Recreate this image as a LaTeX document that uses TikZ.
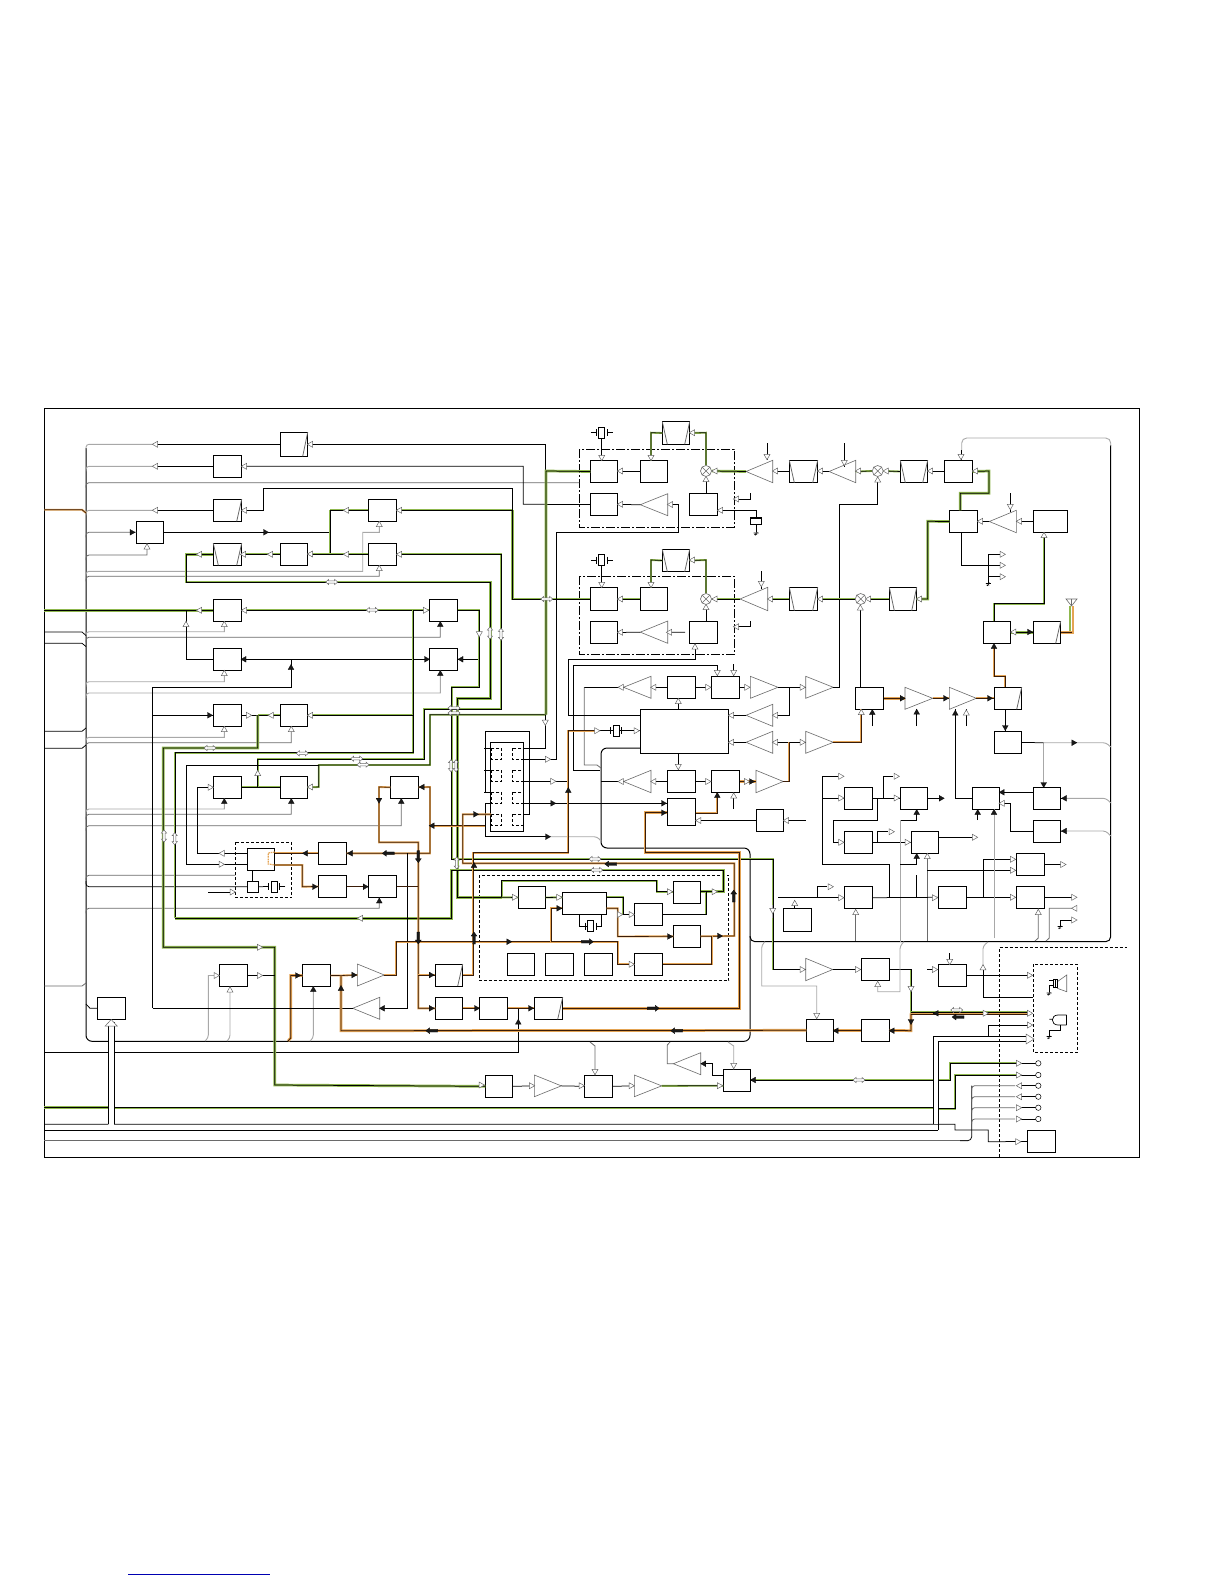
\documentclass[tikz,border=0pt]{standalone}
\definecolor{gcol}{HTML}{8FB84E}
\definecolor{ocol}{HTML}{E4A454}
\definecolor{lg}{HTML}{A8A8A8}
\definecolor{dg}{HTML}{6A6A6A}
\definecolor{bru}{HTML}{3A1C08}
\tikzset{
 w/.style={draw=black,line width=.75pt},
 wt/.style={draw=black,line width=1pt},
 gw/.style={draw=black,line width=.65pt,preaction={draw=gcol,line width=1.9pt}},
 gt/.style={draw=black,line width=.75pt,preaction={draw=gcol,line width=2.7pt}},
 ow/.style={draw=bru,line width=.7pt,preaction={draw=ocol,line width=1.9pt}},
 ot/.style={draw=bru,line width=.8pt,preaction={draw=ocol,line width=2.7pt}},
 gy/.style={draw=lg,line width=.9pt},
 gd/.style={draw=dg,line width=.8pt},
 rc/.style={rounded corners=3pt},
 blkst/.style={rectangle,draw=black,fill=white,line width=.8pt,inner sep=0pt,outer sep=0pt},
 opn/.style={draw=dg,fill=white,line width=.5pt},
 fil/.style={draw=black,fill=black!90,line width=.2pt},
 dsh/.style={draw=black,line width=.7pt,dash pattern=on 3pt off 2pt},
 dd/.style={draw=black,line width=.7pt,dash pattern=on 9pt off 2pt on 2pt off 2pt},
 ampst/.style={draw=dg,line width=.6pt},
}
\newcommand\Blk[5]{\pgfmathsetmacro\Wd{#4-#2}\pgfmathsetmacro\Ht{#5-#3}\pgfmathsetmacro\Cx{(#2+#4)/2}\pgfmathsetmacro\Cy{(#3+#5)/2}\node[blkst,minimum width=\Wd pt,minimum height=\Ht pt] (#1) at (\Cx,\Cy) {};}
\newcommand\Sblk[5]{\Blk{#1}{#2}{#3}{#4}{#5}\draw[gd] ([xshift=-5pt]#1.south east)--(#1.north east);}
\newcommand\Dblk[5]{\Blk{#1}{#2}{#3}{#4}{#5}\draw[gd] ([xshift=-5pt]#1.south east)--(#1.north east) ([xshift=5pt]#1.south west)--(#1.north west);}
\newcommand\Amp[5]{\pgfmathsetmacro\Cy{(#4+#5)/2}\draw[ampst] (#2,\Cy)--(#3,#4)--(#3,#5)--cycle;\coordinate (#1-t) at (#2,\Cy);\coordinate (#1-b) at (#3,\Cy);}
\newcommand\Mix[3]{\node[circle,draw=dg,fill=white,line width=.6pt,minimum size=11pt,inner sep=0pt] (#1) at (#2,#3) {};\draw[dg,line width=.5pt] (#1.north east)--(#1.south west) (#1.north west)--(#1.south east);}
\newcommand\Oa[3]{\draw[opn,shift={(#1,#2)},rotate=#3] (-2.6,-3)--(2.7,0)--(-2.6,3)--cycle;}
\newcommand\Fa[3]{\draw[fil,shift={(#1,#2)},rotate=#3] (-2.5,-2.9)--(2.6,0)--(-2.5,2.9)--cycle;}
\newcommand\Da[3]{\draw[opn,shift={(#1,#2)},rotate=#3] (-6,0)--(-3,-2.6)--(-3,-1.2)--(3,-1.2)--(3,-2.6)--(6,0)--(3,2.6)--(3,1.2)--(-3,1.2)--(-3,2.6)--cycle;}
\newcommand\Db[3]{\draw[fil,shift={(#1,#2)},rotate=#3] (-6,-1.4)--(2,-1.4)--(2,-3)--(6,0)--(2,3)--(2,1.4)--(-6,1.4)--cycle;}
\newcommand\Xt[2]{\draw[w,shift={(#1,#2)}] (-11,0)--(-5.5,0) (-5.5,-3.5)--(-5.5,3.5) (11,0)--(5.5,0) (5.5,-3.5)--(5.5,3.5);\draw[w,fill=white,shift={(#1,#2)}] (-3,-5.5) rectangle (3,5.5);}
\newcommand\Gn[2]{\draw[w,line width=.6pt,shift={(#1,#2)}] (-2.5,0)--(2.5,0) (-2,1.6)--(1,1.6) (1,-1)--(-1,2.5);}
\newcommand\Gb[2]{\draw[gy,rc] (86,{#1+5})--(86,#1)[sharp corners]--#2;}
\newcommand\Gl[2]{\draw[gd,rc] (86,{#1+5})--(86,#1)[sharp corners]--#2;}
\begin{document}
\begin{tikzpicture}[x=1pt,y=-1pt]
\useasboundingbox (0,0) rectangle (1224,1584);
\fill[white] (0,0) rectangle (1224,1584);
\draw[draw=black,line width=.9pt] (44.3,408.3) rectangle (1139,1157.3);
\draw[draw=blue!70!black,line width=.8pt] (128,1574) -- (270,1574);
% ---------- blocks: left
\Sblk{fa}{280.3}{432.3}{307.7}{456.3}
\Blk{bb}{213.3}{455.3}{241.7}{477.3}
\Sblk{fc}{213.3}{499.3}{241.7}{521.3}
\Blk{bd}{136.3}{521.3}{163.7}{543.3}
\Dblk{fe}{213.3}{543.3}{241.7}{565.3}
\Blk{bf}{280.3}{543.3}{307.7}{565.3}
\Blk{bg}{213.3}{599.3}{241.7}{621.3}
\Blk{bh}{368.3}{499.3}{396.7}{521.3}
\Blk{bi}{368.3}{543.3}{396.7}{565.3}
\Blk{bj}{429.3}{599.3}{457.7}{621.3}
\Blk{bk}{429.3}{648.3}{457.7}{670.3}
\Blk{bl}{213.3}{648.3}{241.7}{670.3}
\Blk{bm}{213.3}{704.3}{241.7}{726.3}
\Blk{bn}{280.3}{704.3}{307.7}{726.3}
\Blk{bp}{213.3}{776.3}{241.7}{798.3}
\Blk{bq}{280.3}{776.3}{307.7}{798.3}
\Blk{br}{390.3}{776.3}{418.7}{798.3}
\Blk{bs}{247.3}{848.3}{274.7}{870.7}
\Blk{bt}{247.3}{881.3}{258.7}{892.3}
\Blk{bu}{318.3}{842.3}{346.7}{864.3}
\Blk{bv}{318.3}{875.3}{346.7}{897.7}
\Blk{bw}{368.3}{875.3}{396.7}{897.7}
\Blk{bx}{219.3}{964.3}{247.7}{986.7}
\Blk{by}{302.3}{964.3}{330.7}{986.7}
\Blk{bz}{97.3}{997.3}{125.7}{1019.3}
% ---------- centre
\Sblk{ca}{435.3}{964}{462.7}{986}
\Blk{cb}{435.3}{997.3}{462.7}{1019.3}
\Blk{cc}{479.3}{997.3}{507.7}{1019.3}
\Sblk{cd}{534.3}{997.3}{562.7}{1019.3}
\Blk{ce}{518.3}{886.3}{545.7}{908.7}
\Blk{cf}{562.3}{892.3}{606.7}{914.7}
\Blk{cg}{634.3}{903.3}{662.7}{925.7}
\Blk{ch}{673.3}{881.3}{700.7}{903.7}
\Blk{ci}{673.3}{925.3}{700.7}{947.3}
\Blk{cj}{634.3}{953.3}{662.7}{975.3}
\Blk{ck}{507.3}{953.3}{534.7}{975.7}
\Blk{cl}{545.3}{953.3}{573.7}{975.7}
\Blk{cm}{584.3}{953.3}{612.7}{975.7}
\Blk{af}{485.3}{1075.3}{512.7}{1097.3}
\Blk{ad}{584.3}{1075.3}{612.3}{1097.3}
\Blk{ab}{723.3}{1069.3}{750.7}{1091.7}
\Blk{aa}{806.3}{1019.3}{833.7}{1041.3}
\Blk{az}{861.3}{1019.3}{889.7}{1041.3}
\Blk{ay}{861.3}{958.3}{889.7}{980.7}
\Blk{aw}{783.3}{908.3}{811.7}{931.3}
% ---------- top rows
\Blk{ta}{590.3}{460.3}{617.7}{482.7}
\Blk{tb}{590.3}{493.3}{617.7}{515.7}
\Blk{tc}{640.3}{460.3}{667.7}{482.7}
\Dblk{td}{662.3}{421.7}{689.7}{444.3}
\Blk{te}{689.3}{493.3}{717.7}{515.7}
\Dblk{tf}{789.3}{460.3}{817.7}{482.7}
\Dblk{tg}{900.3}{460.3}{927.7}{482.7}
\Blk{th}{944.3}{460.3}{972.7}{482.7}
\Blk{ti}{949.3}{510.3}{977.7}{532.7}
\Blk{tj}{1033.3}{510.3}{1067.7}{532.7}
\Blk{ua}{590.3}{587.3}{617.7}{610.7}
\Blk{ub}{590.3}{621.3}{617.7}{643.7}
\Blk{uc}{640.3}{587.3}{667.7}{610.7}
\Dblk{ud}{662.3}{549.3}{689.7}{571.7}
\Blk{ue}{689.3}{621.3}{717.7}{643.7}
\Dblk{uf}{789.3}{587.3}{817.7}{610.7}
\Dblk{ug}{889.3}{587.3}{916.7}{610.7}
\Blk{ka}{667.3}{676.3}{695.7}{698.3}
\Blk{kb}{711.3}{676.3}{739.7}{698.3}
\Blk{kc}{640.3}{709.3}{728.7}{753.3}
\Blk{kd}{667.3}{770.3}{695.7}{792.7}
\Blk{ke}{711.3}{770.3}{739.7}{792.7}
\Blk{kf}{667.3}{798.3}{695.7}{825.3}
\Blk{kg}{756.3}{809.3}{783.7}{831.7}
\Blk{kh}{855.3}{687.3}{883.7}{709.3}
% ---------- right
\Blk{ra}{844.3}{787.3}{872.7}{809.3}
\Blk{rb}{900.3}{787.3}{927.7}{809.3}
\Blk{rc1}{844.3}{831.3}{872.7}{853.3}
\Blk{rd}{911.3}{831.3}{938.7}{853.3}
\Blk{re}{844.3}{886.7}{872.7}{908.7}
\Blk{rf}{938.3}{886.3}{966.7}{908.3}
\Blk{rg}{1016.3}{886.3}{1044.7}{908.3}
\Blk{rh}{1016.3}{853.3}{1044.7}{875.7}
\Blk{ri}{972.3}{787.3}{999.7}{809.3}
\Blk{rj}{1033.3}{787.3}{1060.7}{809.3}
\Blk{rk}{1033.3}{820}{1060.7}{842.3}
\Blk{rl}{994.3}{731.7}{1021.7}{753.3}
\Sblk{rm}{994.3}{687.3}{1021.7}{709.3}
\Blk{rn}{983.3}{621.3}{1010.7}{643.3}
\Sblk{ro}{1033.3}{621.3}{1060.7}{643.3}
\Blk{rp}{938.3}{964.3}{966.7}{986.3}
\Blk{rq}{1027.3}{1130.3}{1055.7}{1152.7}
% ---------- amplifiers
\Amp{a1}{640.3}{667.7}{493.7}{515.7}
\Amp{a2}{746}{772.7}{460.3}{482.7}
\Amp{a3}{829}{855.7}{460.3}{482.7}
\Amp{a4}{989.3}{1016.3}{510.3}{532.7}
\Amp{a5}{640.3}{667.7}{621}{643.3}
\Amp{a6}{740}{767.7}{587.3}{610.7}
\Amp{a7}{623.5}{651}{676.3}{698.3}
\Amp{a8}{778}{750.3}{676.3}{698.3}
\Amp{a9}{833.3}{805.7}{676.3}{698.3}
\Amp{a10}{746}{772.7}{704.3}{726.3}
\Amp{a11}{746}{772.7}{731.3}{753.3}
\Amp{a12}{833.3}{805.7}{731.3}{753.3}
\Amp{a13}{623.5}{651}{770.3}{792.7}
\Amp{a14}{783.3}{756}{770.3}{792.7}
\Amp{a15}{932.7}{905}{687.3}{709.3}
\Amp{a16}{976.3}{949.3}{687.3}{709.3}
\Amp{a17}{384.3}{357.3}{964}{986}
\Amp{a18}{352.7}{379.7}{997.3}{1019.3}
\Amp{a19}{832.7}{805.7}{958.3}{980.7}
\Amp{a20}{673.3}{700.7}{1052.7}{1074.7}
\Amp{a21}{661.7}{634.3}{1075}{1096.7}
\Amp{a22}{561.3}{534.3}{1075}{1096.7}
\Mix{m1}{706}{471}
\Mix{m2}{877.7}{471}
\Mix{m3}{706}{599}
\Mix{m4}{860.7}{599}
% ---------- dashed frames
\draw[dd] (579.3,449.3) rectangle (734.3,527.3);
\draw[dd] (579.3,576.3) rectangle (734.3,654.7);
\draw[dsh] (235.3,842.3) rectangle (291.7,897.7);
\draw[dsh] (479.3,875) rectangle (728.7,980.7);
\draw[dsh] (1033.3,964.3) rectangle (1077.7,1052.3);
\draw[dsh] (999.3,1157) -- (999.3,947.3) -- (1127.3,947.3);
% ---------- buses
\draw[wt,rounded corners=6pt] (86,448)--(86,1041.3)--(750,1041.3)--(750,848)--(601,848)--(601,748)--(640.3,748);
\draw[wt,rounded corners=5pt] (750,936)--(750,941.7)--(1110.7,941.7)--(1110.7,445);
\draw[gy,rounded corners=5pt] (1110.7,446)--(1110.7,438)--(961.7,438)--(961.7,450);
\draw[w] (961.7,450)--(961.7,460.3);
% left bus feeds
\Gb{444.3}{(155,444.3)} \draw[w] (155,444.3)--(fa.west);
\Gb{466.3}{(155,466.3)} \draw[w] (155,466.3)--(bb.west);
\Gl{482.7}{(579.3,482.7)}
\Gb{510.3}{(155,510.3)} \draw[w] (155,510.3)--(fc.west);
\Gl{532.3}{(bd.west)}
\Gl{555}{(147,555)--(147,543.3)}
\Gb{571.3}{(362.7,571.3)--(362.7,532.3)--(379.3,532.3)--(379.3,521.3)}
\Gl{576.3}{(379.3,576.3)--(379.3,565.3)}
\Gb{631.7}{(224.3,631.7)--(224.3,621.3)}
\Gl{637.3}{(440.3,637.3)--(440.3,621.3)}
\Gb{681.7}{(224.3,681.7)--(224.3,670.3)}
\Gb{693}{(440.3,693)--(440.3,670.3)}
\Gb{737.3}{(224.3,737.3)--(224.3,726.3)}
\Gl{742.7}{(291.3,742.7)--(291.3,726.3)}
\Gb{809}{(224.3,809)--(224.3,798.3)}
\Gl{814.3}{(291.3,814.3)--(291.3,798.3)}
\Gl{825.7}{(401.3,825.7)--(401.3,798.3)}
\Gl{875.3}{(235.3,875.3)}
\draw[w,rc] (86,881)--(86,886.7)--(bt.west);
\Gl{908.3}{(379.3,908.3)--(379.3,897.7)}
% left edge feeds
\draw[ow] (44.3,509.7)--(82,509.7)--(86,513);
\draw[w] (44.3,632)--(82,632)--(86,635.5) (44.3,643.3)--(82,643.3)--(86,646.5);
\draw[w] (44.3,731.3)--(82,731.3)--(86,728) (44.3,748.3)--(82,748.3)--(86,745);
\draw[gd] (44.3,986)--(82,986)--(86,983);
\draw[w] (86,1004)--(90,1008.3)--(bz.west);
\draw[w] (44.3,1052.3)--(518.3,1052.3)--(518.3,1008.3);
\draw[gd,line width=1.2pt] (44.3,1140.7)--(968,1140.7);
\draw[w,rounded corners=4pt] (960,1140.7)--(971.7,1140.7)--(971.7,1085.7);
% top-left wires
\draw[w] (fa.east)--(545.3,444.3)--(545.3,471);
\draw[w] (bb.east)--(523.3,466.3)--(523.3,504.3)--(tb.west);
\draw[w] (fc.east)--(263.3,510.3)--(263.3,488.3)--(512.3,488.3)--(512.3,512);
\draw[gt] (512.3,510.3)--(512.3,599)--(ua.west);
\draw[gw] (bh.east)--(512.3,510.3);
\draw[w] (bd.east)--(330,532.3);
\draw[gw] (330,510.3)--(330,554.3);
\draw[gw] (bh.west)--(330,510.3);
\draw[gw] (bi.west)--(bf.east);
\draw[gw] (bf.west)--(fe.east);
\draw[gt] (fe.west)--(186,554.3)--(186,582)--(490.3,582)--(490.3,698.3)--(457.3,698.3)--(457.3,897.3)--(501.7,897.3);
\draw[gw] (501.7,897.3)--(ce.west);
\draw[gt] (44.3,610.3)--(bg.west);
\draw[gw] (bg.east)--(bj.west);
\draw[wt] (186,610.3)--(186,659.3)--(bl.west);
\draw[wt] (bl.east)--(bk.west);
\draw[w] (152.7,1008.3)--(152.7,687.3)--(291,687.3)--(291,659.3);
\draw[w] (bk.east)--(479.3,659.3);
\draw[gw] (413,610.3)--(413,752.7)--(175,752.7)--(175,918.3);
\draw[gt] (175,918.3)--(451.7,918.3)--(451.7,870)--(723.3,870)--(723.3,891.7)--(700.7,891.7);
\draw[gw] (bj.east)--(479.3,610.3)--(479.3,687.3)--(451.7,687.3)--(451.7,859)--(773,859)--(773,969.5)--(a19-b);
\draw[gw] (bp.east)--(bq.west);
\draw[gw] (257.7,787.3)--(257.7,759)--(424.3,759)--(424.3,709.3)--(501.3,709.3)--(501.3,554.3)--(bi.east);
\draw[gw] (bq.east)--(318.7,787)--(318.7,765)--(430,765)--(430,714.7)--(546,714.7);
\draw[w] (318.7,765)--(186.7,765)--(186.7,864.3)--(247.3,864.3);
\draw[w] (197.3,787.3)--(bp.west) (197.3,787.3)--(197.3,853.3)--(247.3,853.3);
\draw[w] (152.7,715.3)--(bm.west);
\draw[w] (bm.east)--(257.7,715.3);
\draw[gw] (bn.west)--(257.7,715.3);
\draw[gw] (bn.east)--(413,715.3);
\draw[gt] (257.7,715.3)--(257.7,748)--(163.3,748)--(163.3,947.3)--(274.7,947.3)--(274.7,1085)--(af.west);
\draw[w] (bx.east)--(274.7,975.5);
\draw[gy,rc] (205,1041)--(208.3,1038)[sharp corners]--(208.3,975.5)--(bx.west);
\draw[gy,rc] (227,1041)--(230,1038)[sharp corners]--(230,986.7);
\draw[ot] (288,1041)--(290.7,1038)--(290.7,975.5)--(by.west);
\draw[gy,rc] (310,1041)--(313.3,1038)[sharp corners]--(313.3,986.7);
\draw[w] (208.3,892)--(235.3,892);
% left-top green to top rows
\draw[gt] (ta.west)--(546,471)--(546,714.7);
\draw[w] (545.3,714.7)--(545.3,748.3)--(523,748.3);
\draw[w] (523,759.3)--(556.7,759.3)--(556.7,532.3)--(678.3,532.3)--(678.3,504.7)--(a1-b);
\draw[w] (a1-t)--(tb.east);
\draw[gw] (tc.west)--(ta.east);
\draw[w] (601.7,438)--(601.7,460.3);
\draw[w] (601.7,565)--(601.7,587.3);
\draw[gw] (td.west)--(651,432.7)--(651,460.3);
\draw[gw] (td.east)--(706,432.7)--(m1.north);
\draw[gt] (m1.east)--(a2-t);
\draw[w] (m1.south)--(706,493.3);
\draw[gw] (a2-b)--(tf.west);
\draw[gw] (tf.east)--(a3-t);
\draw[gw] (a3-b)--(m2.west);
\draw[gw] (m2.east)--(tg.west);
\draw[gw] (tg.east)--(th.west);
\draw[w] (m2.south)--(877.7,504.3)--(839.3,504.3)--(839.3,687.3)--(a9-t);
\draw[w] (717.7,510.3)--(756.3,510.3)--(756.3,518);
\draw[w] (736,499)--(750.3,499)--(750.3,493.3);
\draw[w] (736,626.7)--(750.3,626.7)--(750.3,621);
\draw[w] (767,443)--(767,460) (844.3,443)--(844.3,467) (761.3,571)--(761.3,589);
\draw[w] (1010.3,493.3)--(1010.3,512);
% second row
\draw[gw] (uc.west)--(ua.east);
\draw[gw] (ud.west)--(651,560)--(651,587.3);
\draw[gw] (ud.east)--(706,560)--(m3.north);
\draw[gw] (m3.east)--(a6-t);
\draw[w] (m3.south)--(706,621.3);
\draw[gw] (a6-b)--(uf.west);
\draw[gw] (uf.east)--(m4.west);
\draw[gw] (m4.east)--(ug.west);
\draw[gt] (ug.east)--(927.7,599)--(927.7,521.3)--(ti.west);
\draw[w] (a5-t)--(ub.east);
\draw[w] (a5-b)--(685,632.3);
\draw[w] (m4.south)--(860.7,687.3);
% upper-right
\draw[gt] (960.3,510.3)--(960.3,493.3)--(989,493.3)--(989,471)--(th.east);
\draw[gw] (a4-t)--(ti.east);
\draw[gw] (tj.west)--(a4-b);
\draw[w] (961.7,532.7)--(961.7,565.3)--(1001,565.3);
\draw[w] (988.3,554.3)--(1001,554.3) (988.3,554.3)--(988.3,583) (988.3,576.7)--(1001,576.7);
\draw[gw] (994,621.3)--(994,603.7)--(1044,603.7)--(1044,532.7);
\draw[gt] (rn.east)--(ro.west);
\draw[gcol,line width=2.4pt] (1070,606)--(1070,631);
\draw[ocol,line width=2.4pt] (1072.7,606)--(1072.7,634);
\draw[ot] (ro.east)--(1071.5,632.3);
\draw[ow] (994,645)--(994,676)--(1005.3,676)--(1005.3,687.3);
\draw[w] (1005.3,709.3)--(1005.3,731.7);
\draw[gy] (1043.7,742.7)--(1043.7,787);
\draw[w] (rl.east)--(1043.7,742.7);
\draw[gy,rc] (1043.7,742.7)--(1106,742.7)--(1110.7,747);
\draw[gy,rc] (1066,798.3)--(1106,798.3)--(1110.7,803);
\draw[gy,rc] (1066,831)--(1106,831)--(1110.7,836);
\draw[w] (rj.east)--(1066,798.3);
\draw[w] (rk.east)--(1066,831.2);
% big block surroundings
\draw[w] (a7-t)--(584.3,687.3);
\draw[gd] (584.3,687.3)--(584.3,765)--(597,765)--(601,768);
\draw[w] (a7-b)--(ka.west);
\draw[w] (ka.east)--(kb.west);
\draw[w] (kb.east)--(a8-b);
\draw[w] (a8-t)--(a9-b);
\draw[w] (789,687.3)--(789,715.3)--(a10-b);
\draw[w] (a10-t)--(728.7,715.3);
\draw[w] (a11-t)--(728.7,742.3);
\draw[w] (a11-b)--(a12-b);
\draw[ow] (789,742.3)--(789,781.5)--(a14-t);
\draw[ow] (a12-t)--(861.3,742.3)--(861.3,709.3);
\draw[w] (872.3,726)--(872.3,709.3);
\draw[ot] (kh.east)--(a15-b);
\draw[ow] (a15-t)--(a16-b);
\draw[ow] (a16-t)--(rm.west);
\draw[w] (916.7,726)--(916.7,709.3) (966.3,726)--(966.3,709.3);
\draw[w] (955.3,709.3)--(955.3,798.3)--(ri.west);
\draw[w] (678.3,698.3)--(678.3,709.3) (678.3,753.3)--(678.3,770.3);
\draw[w] (kd.west)--(a13-b);
\draw[w] (a13-t)--(601,781.5);
\draw[w] (kd.east)--(ke.west);
\draw[ot] (ke.east)--(a14-b);
\draw[ow] (695.7,813.3)--(717.3,813.3)--(717.3,792.7);
\draw[w] (733.7,809)--(733.7,792.7);
\draw[w] (kg.west)--(695.7,820.5);
\draw[w] (kg.east)--(806,820.5);
\draw[w] (568.3,659)--(695,659)--(695,643.7);
\draw[w] (568.3,659)--(568.3,715)--(640.3,715);
\draw[w] (573.3,665)--(717.3,665)--(717.3,676.3);
\draw[w] (573.3,665)--(573.3,770)--(600,770);
\draw[w] (733.7,664)--(733.7,676.3);
% connector panel
\draw[w] (485.3,731.3)--(529.7,731.3)--(529.7,814.3)--(523.7,814.3);
\draw[w] (485.3,792.3)--(485.3,731.3) (485.3,803.3)--(485.3,836.7)--(548,836.7);
\draw[gy,rc] (548,836.7)--(597,836.7)--(601,841);
\draw[w,fill=white] (490.3,742.3) rectangle (523.7,831.3);
\foreach \yy in {748.3,770.3,792.3,814.3}{\draw[dsh,fill=white] (491,\yy) rectangle (501.7,{\yy+11}); \draw[dsh,fill=white] (512.3,\yy) rectangle (523.3,{\yy+11});}
\draw[w] (484,748.3)--(491,748.3) (484,770.3)--(491,770.3) (484,792.3)--(491,792.3);
\draw[w] (523.3,781.3)--(568.3,781.3);
\draw[w] (485.3,803.3)--(491,803.3) (523.3,803.3)--(667.3,803.3);
\draw[ow] (485,825.7)--(430,825.7);
\draw[ow] (491,814.3)--(462.7,814.3)--(462.7,863.3)--(734.3,863.3)--(734.3,936)--(ci.east);
\draw[ow] (568.3,781.3)--(568.3,730.7)--(597,730.7);
\draw[ow] (568.3,781.3)--(568.3,852.7)--(473.3,852.7)--(473.3,975)--(ca.east);
\draw[w] (597,730.7)--(640.3,730.7);
\draw[ot] (667.3,812.7)--(645,812.7)--(645,852.7)--(739.3,852.7)--(739.3,1008.3)--(cd.east);
\draw[gy] (772.7,905)--(772.7,918);
% R loop
\draw[ow] (br.west)--(379,787)--(379,842.3)--(418.3,842.3)--(418.3,1008.3)--(cb.west);
\draw[ow] (br.east)--(430,787)--(430,853.3)--(bu.east);
\draw[ow] (418.3,975)--(ca.west);
\draw[w] (407.3,853.3)--(407.3,1008.3)--(a18-b);
\draw[w] (a18-t)--(152.7,1008.3);
\draw[ow] (bw.east)--(418.3,886.5);
\draw[ow] (bv.east)--(bw.west);
\draw[ow] (274.7,853.3)--(bu.west);
\draw[ow] (274.7,865)--(302.3,865)--(302.3,886.7)--(bv.west);
\draw[dash pattern=on 1.6pt off .8pt,ocol,line width=1.2pt] (274.7,852)--(268.3,853)--(268.3,864)--(274.7,865);
\draw[w] (252.3,881.3)--(252.3,870.7);
\draw[w] (bt.east)--(263,886.7);
% ---- mid row orange
\draw[ow] (a17-t)--(396,975)--(396,941.7)--(617.7,941.7)--(617.7,964.3)--(cj.west);
\draw[ow] (606.7,908.3)--(617.7,908.3)--(617.7,936.5)--(ci.west);
\draw[ow] (562.3,908.3)--(551,908.3)--(551,941.7);
\draw[ow] (by.east)--(341,975.5)--(a17-b);
\draw[ot] (341,975.5)--(341,1030.7)--(aa.west);
\draw[ow] (cb.east)--(cc.west);
\draw[ow] (cc.east)--(cd.west);
\draw[ow] (cj.east)--(711.7,964.3)--(711.7,936);
\draw[gw] (ce.east)--(562.3,897.3);
\draw[gw] (606.7,897.3)--(623.3,897.3)--(623.3,914.5)--(cg.west);
\draw[gw] (cg.east)--(706,914.5)--(706,891.7);
\draw[gw] (501.7,897.3)--(501.7,880.7)--(656.7,880.7)--(656.7,891.7)--(673.3,891.7);
\draw[w] (579.3,914.7)--(579.3,926)--(590,926) (601.7,914.7)--(601.7,926);
\draw[ot] (az.west)--(aa.east);
\draw[gw] (ay.east)--(911,969.5)--(911,1013.3);
\draw[ot] (911,1013.3)--(911,1030.7)--(az.east);
\draw[gw] (a19-t)--(ay.west);
\draw[gt] (911,1012)--(1030,1012);
\draw[ot] (911,1014)--(1030,1014);
\draw[gy,rc] (765,941.7)--(761.7,945)[sharp corners]--(761.7,986)--(816.7,986)--(816.7,1019);
\draw[gy,rc] (904,941.7)--(900,946)[sharp corners]--(900,991.7)--(877.7,991.7)--(877.7,980.7);
\draw[gd] (670,1042)--(667.3,1045)--(667.3,1063.7)--(a20-t);
\draw[w] (a20-b)--(712,1063.7)--(712,1075.7)--(723.3,1075.7);
\draw[gy] (728,1042)--(733.7,1046)--(733.7,1069.3);
\draw[gd] (590,1042)--(595,1046)--(595,1075.3);
\draw[gw] (a21-t)--(723.3,1085.7);
\draw[w] (ad.east)--(a21-b);
\draw[w] (a22-t)--(ad.west);
\draw[w] (af.east)--(a22-b);
\draw[gw] (750.7,1080)--(933.3,1080);
\draw[gw] (938.3,1080)--(950,1080)--(950,1063.3)--(1019,1063.3);
\draw[gw] (44.3,1107.7)--(933.3,1107.7);
\draw[gt] (44.3,1107.7)--(108,1107.7);
\draw[gw] (938.3,1108.7)--(955,1108.7)--(955,1075)--(1019,1075);
\draw[w] (44.3,1124.3)--(108.3,1124.3) (114,1124.3)--(955,1124.3)--(955,1130)--(988.3,1130)--(988.3,1141.7)--(rq.west);
\draw[w] (44.3,1130.3)--(938.3,1130.3);
% double wires, with gaps
\fill[white] (108.6,1025) rectangle (113.7,1124);
\fill[white] (933.6,1043) rectangle (938,1123.8);
\draw[w] (108.3,1124.3)--(108.3,1022) (114,1124.3)--(114,1022);
\draw[w] (933.3,1124.3)--(933.3,1036.3)--(1030,1036.3);
\draw[w] (938.3,1130.3)--(938.3,1041.7)--(1030,1041.7);
\draw[w] (988.3,1036.3)--(988.3,1025)--(1030,1025);
% right block wires
\draw[w] (822.3,776.3)--(822.3,864.3)--(889.7,864.3)--(889.7,897.7);
\draw[w] (822.3,776.3)--(838,776.3) (822.3,798)--(844.3,798);
\draw[w] (872.7,798)--(900.3,798);
\draw[w] (883.3,798)--(883.3,776.3)--(893,776.3);
\draw[w] (877.7,798)--(877.7,820.3)--(833.3,820.3)--(833.3,842.3)--(rc1.west);
\draw[w] (rc1.east)--(rd.west);
\draw[w] (877.7,842.3)--(877.7,831.7)--(888,831.7);
\draw[w] (rb.east)--(940,798.3);
\draw[w] (916.7,820.3)--(916.7,809.3);
\draw[w] (900,820.3)--(916.7,820.3);
\draw[gy] (900,820.3)--(900,941.7);
\draw[w] (900,864.3)--(916.7,864.3)--(916.7,853.3);
\draw[gd] (927.3,853.3)--(927.3,941);
\draw[w] (927.3,870.3)--(1016.3,870.3);
\draw[w] (938.7,837.3)--(972,837.3);
\draw[w] (778.3,897.7)--(844.3,897.7);
\draw[w] (817,897.7)--(817,886.7)--(827,886.7);
\draw[w] (794.7,908.3)--(794.7,900);
\draw[gd] (855.7,908.7)--(855.7,941);
\draw[w] (re.east)--(rf.west);
\draw[w] (916.7,875)--(916.7,897.7);
\draw[w] (rf.east)--(rg.west);
\draw[w] (983.3,897.3)--(983.3,859.3)--(1016.3,859.3);
\draw[w] (rh.east)--(1065,864.5);
\draw[w] (rg.east)--(1072,897.3);
\draw[gd] (1038.3,908.3)--(1038.3,938)--(1035,941);
\draw[gd] (1046,941)--(1049.3,938)--(1049.3,908.3)--(1072,908.3);
\draw[w] (1060,926)--(1060,920)--(1072,920);
\draw[w] (1033.3,792.3)--(999.7,792.3);
\draw[w] (1033.3,831.3)--(1010.7,831.3)--(1010.7,803.3)--(999.7,803.3);
\draw[w] (977.7,820)--(977.7,809.3);
\draw[gy] (994,938)--(994,809.3);
% bottom right
\draw[w] (927.3,969.5)--(938.3,969.5);
\draw[w] (949.7,953.3)--(949.7,964.3);
\draw[w] (rp.east)--(1030,975.3);
\draw[gy,rc] (988,942)--(983,946)--(983,965);
\draw[w] (983,965)--(983,997.3)--(1033.3,997.3);
% circles
\foreach \yy in {1063.3,1075,1085.7,1096.7,1107.7,1119}{\draw[w] (1019,\yy)--(1035.5,\yy); \node[circle,draw=black,line width=.5pt,fill=white,minimum size=5.4pt,inner sep=0pt] at (1038.3,\yy) {};}
\foreach \yy in {1085.7,1096.7,1107.7,1119}{\draw[gd,rc] (971.7,{\yy+5})--(971.7,\yy)[sharp corners]--(1015,\yy);}
% speaker, mic
\draw[dg,line width=.6pt] (1057.3,981.7)--(1066.7,975)--(1066.7,991.7)--(1057.3,988.3);
\draw[w,line width=.6pt] (1053.3,979.3) rectangle (1057.3,987.3) (1055.3,979.3)--(1055.3,987.3) (1049,980.7)--(1053.3,980.7) (1053.3,985)--(1049,985)--(1049,992);
\Gn{1049}{993}
\draw[w,line width=.7pt] (1049.3,1019.3)--(1052,1019.3) (1066.7,1015)--(1058,1015) .. controls (1050.5,1015) and (1050.5,1025) .. (1058,1025) -- (1066.7,1025);
\draw[w,line width=1.2pt] (1066.7,1015)--(1066.7,1025);
\draw[w,line width=.7pt] (1060.7,1025)--(1060.7,1030.7)--(1049,1030.7)--(1049,1036);
\Gn{1049}{1036.5}
\Gn{1060}{926.5}
\Gn{988.3}{583.5}
\Gn{756}{533}
\draw[w] (756.3,524)--(756.3,532);
\draw[w] (750.3,517.3)--(762.3,517.3);
\draw[w,fill=white] (750.3,518.5) rectangle (761.7,524.3);
% antenna
\draw[dg,line width=.6pt] (1066,599)--(1077,599)--(1071.5,606)--cycle (1071.5,599)--(1071.5,606);
% crystals
\Xt{601.7}{432.7}
\Xt{601.7}{560}
\Xt{616.3}{730.7}
\Xt{274.3}{886.7}
\Xt{590.7}{926}
% ---------- open arrows
\foreach \p/\q/\r in {155/444.3/180,155/466.3/180,155/510.3/180,310/444.3/180,244/466.3/180,244/510.3/180,199/610.3/180,244/610.3/180,199/554.3/180,243/554.3/180,270/554.3/180,310/554/180,346/510.3/180,346/554.3/180,399/510.3/180,399/554.3/180,147/546.5/90,379.3/524/90,379.3/568/90,224.3/624/90,186/624/90,426/610.3/0,479.3/634.3/270,224.3/673/90,249/715.3/0,270.7/715.3/180,310/715.3/180,224.3/729/90,291.3/729/90,210.7/787.3/0,310/787/180,257.7/773/90,221.7/853.3/180,221.7/864.3/0,232.7/892/0,216.7/975.5/0,260/975.5/0,260/947.3/0,230/989.5/90,620/471/180,620/504.3/180,620/599/180,620/632.3/180,601.7/458/270,601.7/585/270,651/458/270,651/585/270,692/432.7/180,692/560/180,706/479/90,706/607/90,714.5/471/180,714.5/599/180,670/504.5/180,669/632.3/180,775/471/180,820/471/180,858/471/180,885.7/471/180,770/599/180,820/599/180,868/599/180,919/599/180,930/471/180,975/471/180,767/457/270,844.3/463/270,761.3/584/270,736/499/180,736/626.7/180,720/510.3/180,877.7/479.5/90,860.3/607.5/90,695/646.5/90,980/521.3/180,1019/521.3/180,1010.3/507/270,961/457/270,1044/535/90,1002.7/554.3/0,1002.7/565.3/0,1002.7/576.7/0,1013.3/632/180,548/759.3/0,553.3/781.3/0,545.3/722.7/270,597.3/730.7/0,636.7/730.7/0,620.7/687.3/180,653.3/687.3/180,708.3/687.3/0,747.3/687.3/0,802.7/687.3/0,775/715.3/180,731/715.3/180,775/742.3/180,731/742.3/180,802.7/742.3/0,678.3/701/90,678.3/767/270,717.3/673/270,733.7/673/270,620.7/781.5/180,653.3/781.5/180,708.3/781.5/0,747/781.5/0,733.7/795.5/90,861.3/712/90,966.3/712.5/90,698.3/820.5/180,786/820.5/180,841.3/798/0,841.3/776.3/0,841.3/842.3/0,841.3/897.7/0,896.7/776.3/0,896.7/798/0,891.7/831.7/0,907.7/842.3/0,927.3/856/90,975/837.3/0,794.7/903/90,830.7/886.7/0,855.7/912/90,935/897.7/0,1013/897.3/0,1013/859.3/0,1013/870.3/0,1063.3/864.5/0,1074.3/897.3/0,1074.3/908.3/180,1074.3/920/0,1038.3/912/90,1001.7/803.3/180,515/897.3/0,559.3/897.3/0,620/914.5/0,631.7/914.5/0,631.7/964.3/0,670/891.7/0,714.7/891.7/0,772.7/911/270,802.7/969.5/0,858/969.5/0,911/989/270,816.7/1016/270,877.7/984/90,733.7/1066/270,595/1072/270,481.7/1085/0,532/1085.7/0,581.7/1085.7/0,631.7/1085.7/0,720/1085.7/0,935/969.5/0,949.7/962/270,983/967.3/90,1030/975.3/0,985.7/1013.3/0,1030/1013.3/0,1030/1025/0,1019/1063.3/0,1019/1075/0,1019/1085.7/180,1019/1096.7/180,1019/1107.7/0,1019/1119/0,1018.3/1141.7/0,360/918.3/180}{\Oa{\p}{\q}{\r}}
% larger open arrows
\draw[opn,shift={(1030,1039)}] (-4,-5)--(4,0)--(-4,5)--cycle;
\draw[opn,shift={(111.2,1023)}] (-6,3)--(0,-3.5)--(6,3)--cycle;
% ---------- filled arrows
\foreach \p/\q/\r in {132.5/532.3/0,266/532.3/0,243.5/659.3/180,291/667/90,427/659.3/0,460.5/659.3/180,210/715.3/0,440.3/624/90,440.3/673/90,224.3/801/90,291.3/801/90,401.3/801/90,379/800.7/270,421.7/787/180,431.7/825.7/180,476/814.3/0,305/853.3/180,315/886.7/0,350/853.3/180,365.7/886.7/0,379.3/900.5/90,298/975.5/0,313.3/989/90,354.3/975/0,341/988/90,382/1008.3/180,431.7/975/0,431.7/1008.3/0,477/1008.3/0,531/1008.3/0,518.3/1021.7/90,474/865/90,509.3/941.7/0,559.3/908.3/0,670/936.5/0,720/936/0,553.3/803.3/0,548/836.7/0,568.3/790/90,664/803.3/0,664/812.7/0,717.3/795/90,752/781.5/0,872.3/712/90,902.7/698.3/0,916.7/711.7/90,946/698.3/0,955.3/712.7/90,990/698.3/0,994/646/90,1005.3/728/270,1030/632/0,941.7/798.3/0,916.7/812/90,916.7/856/90,1001.7/792.3/180,977.7/812/90,994/812/90,1043.7/785/270,1064/798.3/180,1064/831/180,1074.3/742.7/0,835.7/1030.7/180,891.7/1030.7/180,911/1022/270,935.7/1013.3/180,753/1080/180,703.3/1063.7/180}{\Fa{\p}{\q}{\r}}
% ---------- double arrows
\foreach \p/\q/\r in {331.7/582/0,372.3/610/0,490/633/90,501/634.3/90,546.7/599/0,302.3/753.3/0,210/748/0,356.7/758.7/0,363/764.7/0,164/836/90,174.7/838.7/90,454/708/0,454/713/0,451/765.7/90,456/765.7/90,456.7/863/90,595/859/0,596.7/870/0,956.7/1010/0,859/1080/0}{\Da{\p}{\q}{\r}}
\foreach \p/\q/\r in {388.3/853.3/180,418.3/856.7/270,418.3/938/270,474/938/90,587.3/941.7/0,610.7/864/180,733.7/896/90,653.3/1008.3/0,431.7/1030.7/180,676.7/1030.7/180,958/1017/180}{\Db{\p}{\q}{\r}}
\end{tikzpicture}
\end{document}
